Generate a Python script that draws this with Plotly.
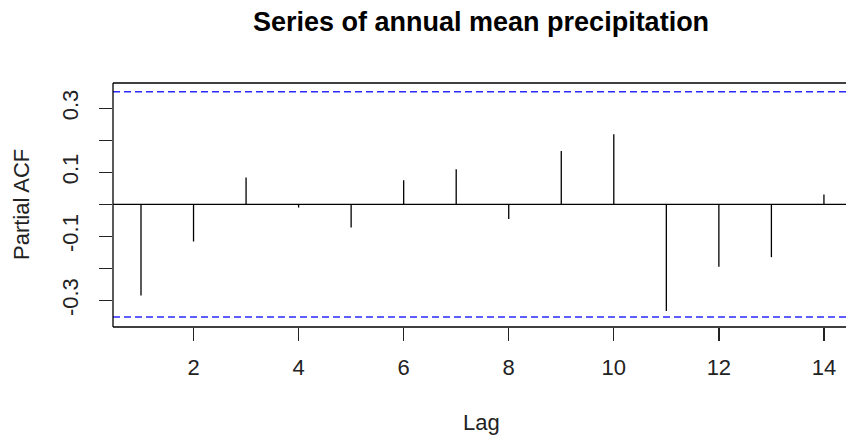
import plotly.graph_objects as go

lags = [1, 2, 3, 4, 5, 6, 7, 8, 9, 10, 11, 12, 13, 14]
pacf = [-0.285, -0.116, 0.084, -0.010, -0.072, 0.075, 0.110,
        -0.046, 0.167, 0.219, -0.333, -0.195, -0.165, 0.031]
ci = 0.352
y_tickvals = [-0.3, -0.2, -0.1, 0.0, 0.1, 0.2, 0.3]
y_ticktext = ["-0.3", "", "-0.1", "", "0.1", "", "0.3"]
x_tickvals = [2, 4, 6, 8, 10, 12, 14]

title_text = "Series of annual mean precipitation"
xlab = "Lag"
ylab = "Partial ACF"

FONT = "Liberation Sans, Arial, sans-serif"

xs, ys = [], []
for l, v in zip(lags, pacf):
    xs += [l, l, None]
    ys += [0, v, None]

fig = go.Figure()
fig.add_trace(go.Scatter(x=xs, y=ys, mode="lines",
                         line=dict(color="black", width=1.3),
                         hoverinfo="skip", showlegend=False))

# confidence bounds
for c in (ci, -ci):
    fig.add_shape(type="line", xref="paper", yref="y", x0=0, x1=1, y0=c, y1=c,
                  line=dict(color="#2a2aff", width=1.5, dash="7px,4px"))
# zero line
fig.add_shape(type="line", xref="paper", yref="y", x0=0, x1=1, y0=0, y1=0,
              line=dict(color="black", width=1.3))
# box (left, top, bottom; right edge falls outside the picture)
box = dict(color="black", width=1.3)
fig.add_shape(type="line", xref="paper", yref="paper", x0=0, x1=0, y0=0, y1=1, line=box)
fig.add_shape(type="line", xref="paper", yref="paper", x0=0, x1=1, y0=1, y1=1, line=box)
fig.add_shape(type="line", xref="paper", yref="paper", x0=0, x1=1, y0=0, y1=0, line=box)

fig.update_layout(
    width=846, height=439,
    margin=dict(l=113, r=0, t=83, b=112),
    paper_bgcolor="white", plot_bgcolor="white",
    font=dict(family=FONT, size=22, color="#222"),
    showlegend=False,
    annotations=[
        dict(text="<b>" + title_text + "</b>", xref="paper", yref="paper",
             x=0.502, y=1, yshift=61, xanchor="center", yanchor="middle",
             showarrow=False, font=dict(size=27, color="black", family=FONT)),
        dict(text=xlab, xref="paper", yref="paper", x=0.503, y=0, yshift=-95,
             xanchor="center", yanchor="middle", showarrow=False,
             font=dict(size=22, color="#222", family=FONT)),
        dict(text=ylab, xref="paper", yref="paper", x=0, xshift=-92, y=0.5,
             xanchor="center", yanchor="middle", textangle=-90, showarrow=False,
             font=dict(size=22, color="#222", family=FONT)),
    ],
)
fig.update_xaxes(range=[0.467, 14.42], tickvals=x_tickvals, ticks="outside",
                 ticklen=13, tickwidth=1.3, tickcolor="#222", showgrid=False,
                 zeroline=False, showline=False, ticklabelstandoff=8)
fig.update_yaxes(range=[-0.383, 0.379], tickvals=y_tickvals, ticktext=y_ticktext,
                 tickangle=-90, ticks="outside", ticklen=13, tickwidth=1.3,
                 tickcolor="#222", showgrid=False, zeroline=False, showline=False,
                 ticklabelstandoff=12)

fig.write_html("out.html",
               config={"displayModeBar": False, "staticPlot": True},
               post_script="document.body.style.margin='0';document.body.style.overflow='hidden';")
